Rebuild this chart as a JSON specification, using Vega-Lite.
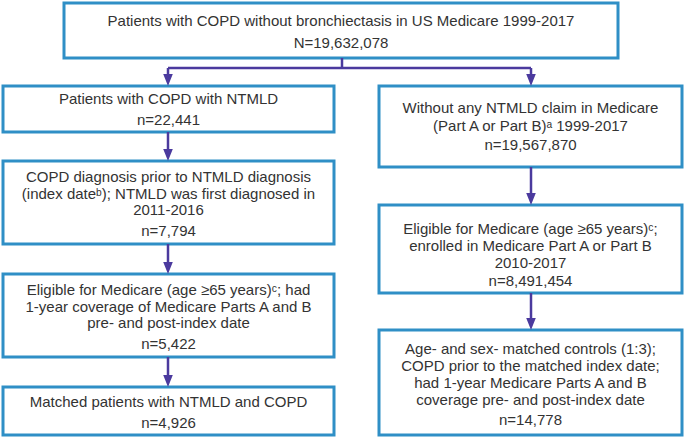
{
  "$schema": "https://vega.github.io/schema/vega-lite/v6.json",
  "width": 685,
  "height": 438,
  "autosize": {"type": "fit", "contains": "padding"},
  "padding": 0,
  "background": "white",
  "config": {"view": {"stroke": null}},
  "datasets": {
    "boxes": [
      {"x": 64, "x2": 618, "y": 3, "y2": 58},
      {"x": 3, "x2": 334, "y": 86, "y2": 132},
      {"x": 3, "x2": 334, "y": 161, "y2": 244},
      {"x": 3, "x2": 334, "y": 274, "y2": 357},
      {"x": 3, "x2": 334, "y": 387, "y2": 435},
      {"x": 379, "x2": 682, "y": 86, "y2": 167},
      {"x": 379, "x2": 682, "y": 205, "y2": 293},
      {"x": 379, "x2": 682, "y": 330, "y2": 435}
    ],
    "lines": [
      {"x": 342, "x2": 342, "y": 58, "y2": 68},
      {"x": 168, "x2": 531, "y": 68, "y2": 68},
      {"x": 168, "x2": 168, "y": 68, "y2": 80},
      {"x": 531, "x2": 531, "y": 68, "y2": 80},
      {"x": 168, "x2": 168, "y": 132, "y2": 155},
      {"x": 168, "x2": 168, "y": 244, "y2": 268},
      {"x": 168, "x2": 168, "y": 357, "y2": 381},
      {"x": 531, "x2": 531, "y": 167, "y2": 199},
      {"x": 531, "x2": 531, "y": 293, "y2": 324}
    ],
    "heads": [
      {"x": 168, "y": 86},
      {"x": 531, "y": 86},
      {"x": 168, "y": 161},
      {"x": 168, "y": 274},
      {"x": 168, "y": 387},
      {"x": 531, "y": 205},
      {"x": 531, "y": 330}
    ],
    "texts": [
      {"x": 341, "y": 21, "label": "Patients with COPD without bronchiectasis in US Medicare 1999-2017"},
      {"x": 341, "y": 43, "label": "N=19,632,078"},
      {"x": 168.5, "y": 99, "label": "Patients with COPD with NTMLD"},
      {"x": 168.5, "y": 120, "label": "n=22,441"},
      {"x": 168.5, "y": 177, "label": "COPD diagnosis prior to NTMLD diagnosis"},
      {"x": 168.5, "y": 193.5, "label": "(index dateᵇ); NTMLD was first diagnosed in"},
      {"x": 168.5, "y": 210, "label": "2011-2016"},
      {"x": 168.5, "y": 231, "label": "n=7,794"},
      {"x": 168.5, "y": 290, "label": "Eligible for Medicare (age ≥65 years)ᶜ; had"},
      {"x": 168.5, "y": 306.5, "label": "1-year coverage of Medicare Parts A and B"},
      {"x": 168.5, "y": 323, "label": "pre- and post-index date"},
      {"x": 168.5, "y": 344, "label": "n=5,422"},
      {"x": 168.5, "y": 402, "label": "Matched patients with NTMLD and COPD"},
      {"x": 168.5, "y": 423, "label": "n=4,926"},
      {"x": 530.5, "y": 108, "label": "Without any NTMLD claim in Medicare"},
      {"x": 530.5, "y": 125.5, "label": "(Part A or Part B)ᵃ 1999-2017"},
      {"x": 530.5, "y": 145, "label": "n=19,567,870"},
      {"x": 530.5, "y": 229, "label": "Eligible for Medicare (age ≥65 years)ᶜ;"},
      {"x": 530.5, "y": 246, "label": "enrolled in Medicare Part A or Part B"},
      {"x": 530.5, "y": 262.5, "label": "2010-2017"},
      {"x": 530.5, "y": 281, "label": "n=8,491,454"},
      {"x": 530.5, "y": 349, "label": "Age- and sex- matched controls (1:3);"},
      {"x": 530.5, "y": 366, "label": "COPD prior to the matched index date;"},
      {"x": 530.5, "y": 383, "label": "had 1-year Medicare Parts A and B"},
      {"x": 530.5, "y": 400, "label": "coverage pre- and post-index date"},
      {"x": 530.5, "y": 420, "label": "n=14,778"}
    ]
  },
  "layer": [
    {
      "data": {"name": "boxes"},
      "mark": {"type": "rect", "fill": "white", "stroke": "#2f8fc6", "strokeWidth": 3},
      "encoding": {
        "x": {"field": "x", "type": "quantitative", "scale": {"domain": [0, 685], "nice": false, "zero": false}, "axis": null},
        "x2": {"field": "x2"},
        "y": {"field": "y", "type": "quantitative", "scale": {"domain": [0, 438], "nice": false, "zero": false, "reverse": true}, "axis": null},
        "y2": {"field": "y2"}
      }
    },
    {
      "data": {"name": "lines"},
      "mark": {"type": "rule", "stroke": "#4b3a9e", "strokeWidth": 2.5},
      "encoding": {
        "x": {"field": "x", "type": "quantitative"},
        "x2": {"field": "x2"},
        "y": {"field": "y", "type": "quantitative"},
        "y2": {"field": "y2"}
      }
    },
    {
      "data": {"name": "heads"},
      "mark": {"type": "point", "shape": "M-0.8,-1L0.8,-1L0,1Z", "filled": true, "fill": "#4b3a9e", "opacity": 1, "size": 144, "yOffset": -6, "strokeWidth": 0},
      "encoding": {
        "x": {"field": "x", "type": "quantitative"},
        "y": {"field": "y", "type": "quantitative"}
      }
    },
    {
      "data": {"name": "texts"},
      "mark": {"type": "text", "font": "Liberation Sans", "fontSize": 15, "fill": "#333333", "align": "center", "baseline": "middle"},
      "encoding": {
        "x": {"field": "x", "type": "quantitative"},
        "y": {"field": "y", "type": "quantitative"},
        "text": {"field": "label"}
      }
    }
  ]
}
